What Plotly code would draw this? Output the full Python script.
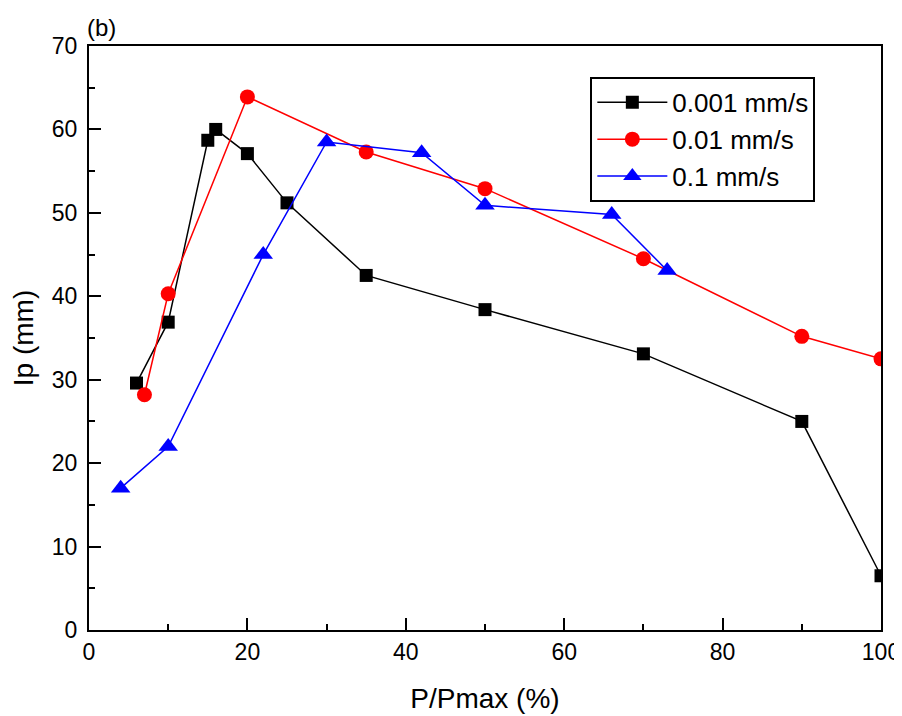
import plotly.graph_objects as go

# P/Pmax (%) and Ip (mm) for each loading rate
x_001 = [6, 10, 15, 16, 20, 25, 35, 50, 70, 90, 100]
y_001 = [29.6, 36.9, 58.7, 60.0, 57.1, 51.2, 42.5, 38.4, 33.1, 25.0, 6.5]

x_01 = [7, 10, 20, 35, 50, 70, 90, 100]
y_01 = [28.2, 40.3, 63.9, 57.3, 52.9, 44.5, 35.2, 32.5]

x_1 = [4, 10, 22, 30, 42, 50, 66, 73]
y_1 = [17.0, 22.0, 45.0, 58.5, 57.2, 50.9, 49.8, 43.1]

FONT = "Liberation Sans, Arial, sans-serif"

fig = go.Figure()

fig.add_trace(go.Scatter(
    x=x_001, y=y_001, mode="lines+markers", name="0.001 mm/s",
    line=dict(color="black", width=1.5),
    marker=dict(symbol="square", size=13, color="black"),
))
fig.add_trace(go.Scatter(
    x=x_01, y=y_01, mode="lines+markers", name="0.01 mm/s",
    line=dict(color="#ff0000", width=1.5),
    marker=dict(symbol="circle", size=15, color="#ff0000"),
))
fig.add_trace(go.Scatter(
    x=x_1, y=y_1, mode="lines+markers", name="0.1 mm/s",
    line=dict(color="#0000ff", width=1.5),
    marker=dict(symbol="triangle-up", size=17, color="#0000ff"),
))

axis_common = dict(
    showline=True, linecolor="black", linewidth=2, mirror=True,
    showgrid=False, zeroline=False, automargin=False,
    ticks="inside", ticklen=12, tickwidth=2, tickcolor="black",
    tickfont=dict(family=FONT, size=23, color="black"),
)

fig.update_xaxes(
    range=[0, 100], tick0=0, dtick=20,
    minor=dict(ticks="inside", ticklen=6, tickwidth=2, tickcolor="black", dtick=10),
    title=dict(text="P/Pmax (%)", font=dict(family=FONT, size=28, color="black"), standoff=25),
    **axis_common,
)
fig.update_yaxes(
    range=[0, 70], tick0=0, dtick=10, ticklabelstandoff=5,
    minor=dict(ticks="inside", ticklen=6, tickwidth=2, tickcolor="black", dtick=5),
    title=dict(text="Ip (mm)", font=dict(family=FONT, size=28, color="black"), standoff=33),
    **axis_common,
)

# the page body has an 8px margin, so the figure is a little smaller than the window
fig.update_layout(
    width=894, height=708,
    margin=dict(l=81, r=21, t=38, b=86),
    paper_bgcolor="white", plot_bgcolor="white",
    font=dict(family=FONT, color="black"),
    legend=dict(
        x=0.633, y=0.947, xanchor="left", yanchor="top",
        bordercolor="black", borderwidth=2, bgcolor="white",
        font=dict(family=FONT, size=26, color="black"),
        itemwidth=70, tracegroupgap=0,
    ),
    annotations=[dict(
        text="(b)", x=-0.005, y=1.0, xref="paper", yref="paper",
        xanchor="left", yanchor="bottom", yshift=3, showarrow=False,
        font=dict(family=FONT, size=24, color="black"),
    )],
)

fig.write_html("out.html")
